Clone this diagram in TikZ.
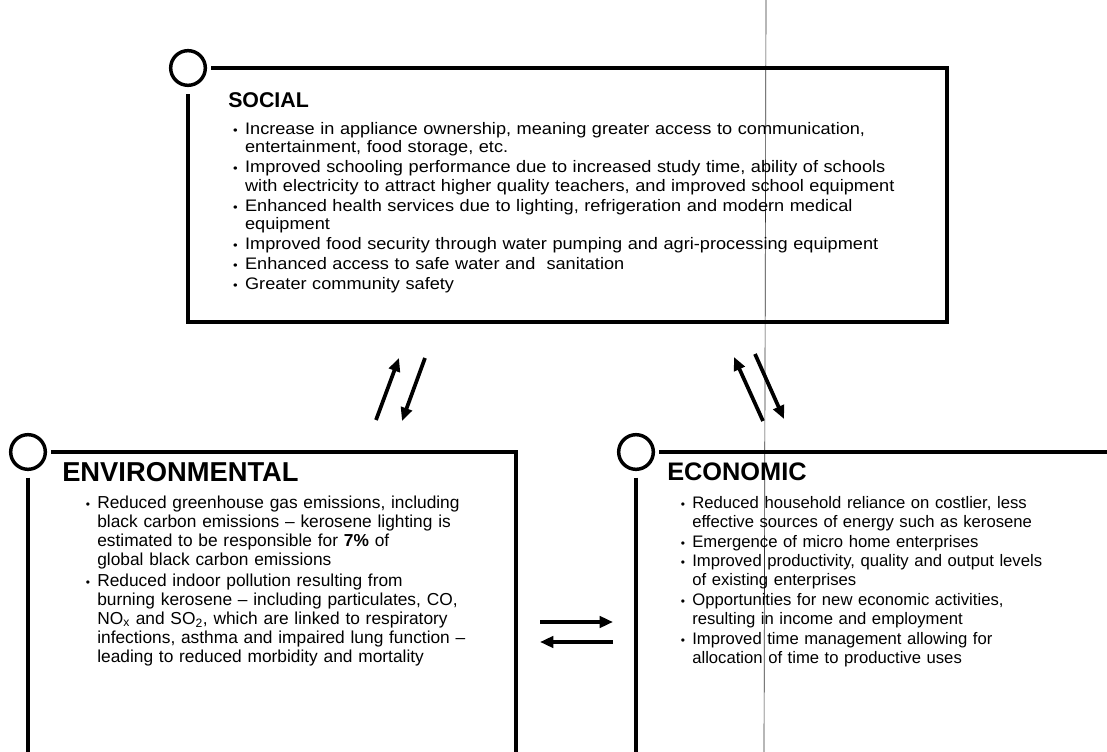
\documentclass[tikz,border=0pt]{standalone}
\usepackage{fontspec}
\setmainfont{Liberation Sans}
\newfontfamily\widesans{Liberation Sans}[FakeStretch=1.09]
\usepackage{enumitem}
\usetikzlibrary{arrows.meta}
\newcommand{\blist}[2]{\begin{itemize}[label={\small\textbullet}, leftmargin=10pt, labelsep=5.5pt, itemsep=#1, topsep=0pt, parsep=0pt, partopsep=0pt]#2\end{itemize}}
\tikzset{
  frame/.style={line width=2.3pt, line join=miter},
  badge/.style={circle, draw, line width=2.6pt, minimum size=26pt, inner sep=0pt},
  heading/.style={anchor=west, inner sep=0pt, font=\bfseries},
  body/.style={anchor=north west, inner sep=0pt, align=left},
  flow/.style={line width=2.8pt, -{Triangle[length=10pt,width=8.5pt]}},
  scanline/.style={line width=0.5pt, black!80}
}
\begin{document}
\begin{tikzpicture}[x=0.75pt,y=-0.75pt]
\useasboundingbox (0,0) rectangle (1107,752);
\fill[white] (0,0) rectangle (1107,752);
% scan artefact
\draw[scanline] (766,0) -- (764,752);
% SOCIAL
\node[badge] (sc) at (188,68) {};
\draw[frame] ([xshift=3pt]sc.east) -| (947,322) -| ([yshift=-5pt]sc.south);
\node[heading, font=\fontsize{16}{18}\selectfont\bfseries] (st) at (228,100) {SOCIAL};
\node[body, text width=540pt, font=\widesans\fontsize{12.5}{13.7}\selectfont] (sl) at (231.5,116) {\blist{1.3pt}{
\item Increase in appliance ownership, meaning greater access to communication,\\ entertainment, food storage, etc.
\item Improved schooling performance due to increased study time, ability of schools\\ with electricity to attract higher quality teachers, and improved school equipment
\item Enhanced health services due to lighting, refrigeration and modern medical\\ equipment
\item Improved food security through water pumping and agri-processing equipment
\item Enhanced access to safe water and\ \ sanitation
\item Greater community safety}};
% ENVIRONMENTAL
\node[badge] (ec) at (28,452) {};
\draw[frame] ([xshift=3pt]ec.east) -- (516,452) -- (516,760);
\draw[frame] ([yshift=-5pt]ec.south) -- (28,760);
\node[heading, font=\fontsize{20.5}{22}\selectfont\bfseries] (et) at (62,472) {ENVIRONMENTAL};
\node[body, text width=330pt, font=\fontsize{13}{14.25}\selectfont] (el) at (83.7,489) {\blist{1.5pt}{
\item Reduced greenhouse gas emissions, including\\ black carbon emissions -- kerosene lighting is\\ estimated to be responsible for \textbf{7\%} of\\ global black carbon emissions
\item Reduced indoor pollution resulting from\\ burning kerosene -- including particulates, CO,\\ NO\textsubscript{x} and SO\textsubscript{2}, which are linked to respiratory\\ infections, asthma and impaired lung function --\\ leading to reduced morbidity and mortality}};
% ECONOMIC
\node[badge] (oc) at (636,452) {};
\draw[frame] ([xshift=3pt]oc.east) -- (1115,452);
\draw[frame] ([yshift=-5pt]oc.south) -- (636,760);
\node[heading, font=\fontsize{19}{21}\selectfont\bfseries] (ot) at (667,472) {ECONOMIC};
\node[body, text width=330pt, font=\fontsize{12.5}{14.3}\selectfont] (ol) at (678.7,489) {\blist{0.5pt}{
\item Reduced household reliance on costlier, less\\ effective sources of energy such as kerosene
\item Emergence of micro home enterprises
\item Improved productivity, quality and output levels\\ of existing enterprises
\item Opportunities for new economic activities,\\ resulting in income and employment
\item Improved time management allowing for\\ allocation of time to productive uses}};
% arrows social <-> environmental
\coordinate (a1s) at (376,420); \coordinate (a1e) at (399,358);
\coordinate (a2s) at (425,358); \coordinate (a2e) at (402,421);
\draw[flow] (a1s) -- (a1e);
\draw[flow] (a2s) -- (a2e);
% arrows social <-> economic
\coordinate (b1s) at (763,421); \coordinate (b1e) at (734,357);
\coordinate (b2s) at (755,354); \coordinate (b2e) at (784,419);
\draw[flow] (b1s) -- (b1e);
\draw[flow] (b2s) -- (b2e);
% arrows environmental <-> economic
\coordinate (c1s) at (540,622); \coordinate (c1e) at (613,622);
\coordinate (c2s) at (613,642); \coordinate (c2e) at (540,642);
\draw[flow] (c1s) -- (c1e);
\draw[flow] (c2s) -- (c2e);
\end{tikzpicture}
\end{document}
